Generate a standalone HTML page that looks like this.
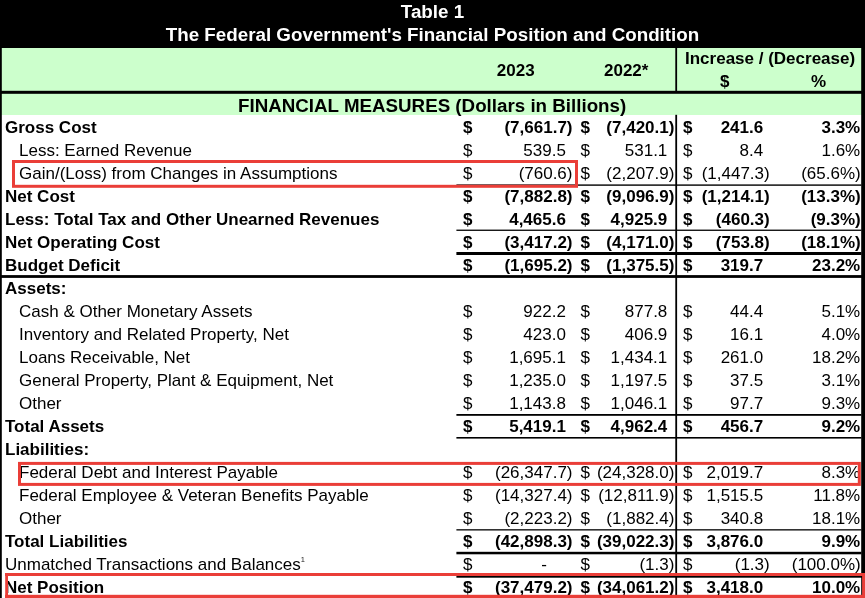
<!DOCTYPE html>
<html><head><meta charset="utf-8"><title>Table 1</title>
<style>
html,body{margin:0;padding:0;background:#fff;}
body{width:865px;height:598px;position:relative;overflow:hidden;font-family:"Liberation Sans",Arial,sans-serif;font-size:17px;color:#000;}
.abs{position:absolute;}
.title{left:0;top:0;width:865px;height:48px;background:#000;color:#fff;font-weight:bold;font-size:18.8px;text-align:center;}
.title div{position:absolute;left:0;width:865px;line-height:22px;}
.hdr{left:0;top:48px;width:865px;height:66.8px;background:#ccffcc;}
.hb{font-weight:bold;font-size:17px;line-height:22px;white-space:nowrap;}
.fm{font-weight:bold;font-size:18.75px;line-height:22px;white-space:nowrap;}
.row{position:absolute;left:0;width:865px;height:23px;line-height:23px;white-space:nowrap;}
.row.b{font-weight:bold;}
.row span{position:absolute;top:0;}
.l0{left:5px;} .l1{left:19px;}
.d1{left:463px;} .d2{left:580.4px;} .d3{left:683px;}
.v1{right:292.5px;} .v2{right:190.6px;} .v3{right:95.3px;} .p{right:4.3px;}
.v1.pos{padding-right:6.6px;} .v2.pos{padding-right:7.1px;} .v3.pos{padding-right:6.5px;} .p.pos{padding-right:0.5px;}
sup{font-size:7.5px;line-height:0;vertical-align:8px;color:#222;}
</style></head><body>
<div class="abs title"><div style="top:1px">Table 1</div><div style="top:24px">The Federal Government's Financial Position and Condition</div></div>
<div class="abs hdr"></div>
<div class="abs hb" style="left:496.8px;top:60px;">2023</div>
<div class="abs hb" style="left:604px;top:60px;">2022*</div>
<div class="abs hb" style="left:685px;top:48px;">Increase / (Decrease)</div>
<div class="abs hb" style="left:720px;top:71px;">$</div>
<div class="abs hb" style="left:811px;top:71px;">%</div>
<div class="abs fm" style="left:238px;top:95px;">FINANCIAL MEASURES (Dollars in Billions)</div>

<div class="row b" style="top:115.5px"><span class="l0">Gross Cost</span><span class="d1">$</span><span class="v1">(7,661.7)</span><span class="d2">$</span><span class="v2">(7,420.1)</span><span class="d3">$</span><span class="v3 pos">241.6</span><span class="p pos">3.3%</span></div>
<div class="row" style="top:138.5px"><span class="l1">Less: Earned Revenue</span><span class="d1">$</span><span class="v1 pos">539.5</span><span class="d2">$</span><span class="v2 pos">531.1</span><span class="d3">$</span><span class="v3 pos">8.4</span><span class="p pos">1.6%</span></div>
<div class="row" style="top:161.5px"><span class="l1">Gain/(Loss) from Changes in Assumptions</span><span class="d1">$</span><span class="v1">(760.6)</span><span class="d2">$</span><span class="v2">(2,207.9)</span><span class="d3">$</span><span class="v3">(1,447.3)</span><span class="p">(65.6%)</span></div>
<div class="row b" style="top:184.5px"><span class="l0">Net Cost</span><span class="d1">$</span><span class="v1">(7,882.8)</span><span class="d2">$</span><span class="v2">(9,096.9)</span><span class="d3">$</span><span class="v3">(1,214.1)</span><span class="p">(13.3%)</span></div>
<div class="row b" style="top:207.5px"><span class="l0">Less: Total Tax and Other Unearned Revenues</span><span class="d1">$</span><span class="v1 pos">4,465.6</span><span class="d2">$</span><span class="v2 pos">4,925.9</span><span class="d3">$</span><span class="v3">(460.3)</span><span class="p">(9.3%)</span></div>
<div class="row b" style="top:230.5px"><span class="l0">Net Operating Cost</span><span class="d1">$</span><span class="v1">(3,417.2)</span><span class="d2">$</span><span class="v2">(4,171.0)</span><span class="d3">$</span><span class="v3">(753.8)</span><span class="p">(18.1%)</span></div>
<div class="row b" style="top:253.5px"><span class="l0">Budget Deficit</span><span class="d1">$</span><span class="v1">(1,695.2)</span><span class="d2">$</span><span class="v2">(1,375.5)</span><span class="d3">$</span><span class="v3 pos">319.7</span><span class="p pos">23.2%</span></div>
<div class="row b" style="top:276.5px"><span class="l0">Assets:</span></div>
<div class="row" style="top:299.5px"><span class="l1">Cash &amp; Other Monetary Assets</span><span class="d1">$</span><span class="v1 pos">922.2</span><span class="d2">$</span><span class="v2 pos">877.8</span><span class="d3">$</span><span class="v3 pos">44.4</span><span class="p pos">5.1%</span></div>
<div class="row" style="top:322.5px"><span class="l1">Inventory and Related Property, Net</span><span class="d1">$</span><span class="v1 pos">423.0</span><span class="d2">$</span><span class="v2 pos">406.9</span><span class="d3">$</span><span class="v3 pos">16.1</span><span class="p pos">4.0%</span></div>
<div class="row" style="top:345.5px"><span class="l1">Loans Receivable, Net</span><span class="d1">$</span><span class="v1 pos">1,695.1</span><span class="d2">$</span><span class="v2 pos">1,434.1</span><span class="d3">$</span><span class="v3 pos">261.0</span><span class="p pos">18.2%</span></div>
<div class="row" style="top:368.5px"><span class="l1">General Property, Plant &amp; Equipment, Net</span><span class="d1">$</span><span class="v1 pos">1,235.0</span><span class="d2">$</span><span class="v2 pos">1,197.5</span><span class="d3">$</span><span class="v3 pos">37.5</span><span class="p pos">3.1%</span></div>
<div class="row" style="top:391.5px"><span class="l1">Other</span><span class="d1">$</span><span class="v1 pos">1,143.8</span><span class="d2">$</span><span class="v2 pos">1,046.1</span><span class="d3">$</span><span class="v3 pos">97.7</span><span class="p pos">9.3%</span></div>
<div class="row b" style="top:414.5px"><span class="l0">Total Assets</span><span class="d1">$</span><span class="v1 pos">5,419.1</span><span class="d2">$</span><span class="v2 pos">4,962.4</span><span class="d3">$</span><span class="v3 pos">456.7</span><span class="p pos">9.2%</span></div>
<div class="row b" style="top:437.5px"><span class="l0">Liabilities:</span></div>
<div class="row" style="top:460.5px"><span class="l1">Federal Debt and Interest Payable</span><span class="d1">$</span><span class="v1">(26,347.7)</span><span class="d2">$</span><span class="v2">(24,328.0)</span><span class="d3">$</span><span class="v3 pos">2,019.7</span><span class="p pos">8.3%</span></div>
<div class="row" style="top:483.5px"><span class="l1">Federal Employee &amp; Veteran Benefits Payable</span><span class="d1">$</span><span class="v1">(14,327.4)</span><span class="d2">$</span><span class="v2">(12,811.9)</span><span class="d3">$</span><span class="v3 pos">1,515.5</span><span class="p pos">11.8%</span></div>
<div class="row" style="top:506.5px"><span class="l1">Other</span><span class="d1">$</span><span class="v1">(2,223.2)</span><span class="d2">$</span><span class="v2">(1,882.4)</span><span class="d3">$</span><span class="v3 pos">340.8</span><span class="p pos">18.1%</span></div>
<div class="row b" style="top:529.5px"><span class="l0">Total Liabilities</span><span class="d1">$</span><span class="v1">(42,898.3)</span><span class="d2">$</span><span class="v2">(39,022.3)</span><span class="d3">$</span><span class="v3 pos">3,876.0</span><span class="p pos">9.9%</span></div>
<div class="row" style="top:552.5px"><span class="l0">Unmatched Transactions and Balances<sup>1</sup></span><span class="d1">$</span><span class="v1" style="padding-right:25.5px">-</span><span class="d2">$</span><span class="v2">(1.3)</span><span class="d3">$</span><span class="v3">(1.3)</span><span class="p">(100.0%)</span></div>
<div class="row b" style="top:575.5px"><span class="l0">Net Position</span><span class="d1">$</span><span class="v1">(37,479.2)</span><span class="d2">$</span><span class="v2">(34,061.2)</span><span class="d3">$</span><span class="v3 pos">3,418.0</span><span class="p pos">10.0%</span></div>

<!-- borders and rules -->
<svg class="abs" style="left:0;top:0;z-index:2" width="865" height="598" viewBox="0 0 865 598">
<g fill="#000">
<rect x="0" y="0" width="1.8" height="598"/>
<rect x="861.2" y="0" width="3.8" height="598"/>
<rect x="0" y="90.8" width="865" height="3"/>
<rect x="675.3" y="48" width="1.8" height="43"/>
<rect x="675.3" y="114.8" width="1.8" height="484"/>
<rect x="456.4" y="184.4" width="405" height="1.4"/>
<rect x="456.4" y="229.6" width="405" height="1.3"/>
<rect x="456.4" y="252" width="405" height="3"/>
<rect x="0" y="275.1" width="865" height="2.8"/>
<rect x="456.4" y="414" width="405" height="1.8"/>
<rect x="456.4" y="437" width="405" height="1.6"/>
<rect x="456.4" y="529.2" width="405" height="1.3"/>
<rect x="456.4" y="551.8" width="405" height="2.5"/>
<rect x="456.4" y="576" width="405.6" height="1.7"/>
</g>
<g fill="none" stroke="#ea3e38" stroke-width="3">
<rect x="13.5" y="161.5" width="563" height="24.8"/>
<rect x="19.5" y="463.4" width="839.8" height="21"/>
</g>
<g fill="#ea3e38">
<rect x="5" y="573" width="860" height="3"/>
<rect x="5" y="594.8" width="860" height="3.2"/>
<rect x="5.2" y="573" width="2.8" height="25"/>
<rect x="862.1" y="573" width="2.9" height="25"/>
</g>
</svg>
</body></html>
